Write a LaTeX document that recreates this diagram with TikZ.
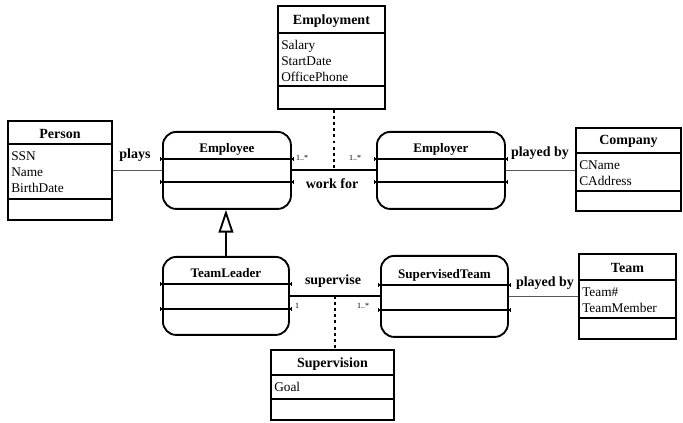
\documentclass[tikz,border=0pt]{standalone}
\usepackage{fontspec}
\setmainfont{Liberation Serif}
\usetikzlibrary{arrows.meta, shapes.multipart, positioning, calc}
\tikzset{
    classbox/.style = {rectangle split, rectangle split parts=3,
        draw=black, line width=1.4pt, inner sep=0pt, anchor=north west},
    rolebox/.style = {classbox, rounded corners=10pt,
        rectangle split draw splits=false},
    rolesplit/.style = {line width=1.2pt,
        {Bar[width=3pt,line width=0.8pt]}-{Bar[width=3pt,line width=0.8pt]}},
    assoc/.style = {line width=1.4pt},
    playline/.style = {draw=black!65, line width=0.8pt},
    linkline/.style = {line width=1.5pt, dash pattern=on 2.2pt off 2.4pt},
    isa/.style = {line width=1.4pt, -{Triangle[open, length=17pt, width=11pt]}},
    rolename/.style = {font=\fontsize{10.5}{12}\selectfont\bfseries, inner sep=1pt},
    mult/.style = {font=\fontsize{6}{7}\selectfont, inner sep=0pt},
}
% compartments of the class boxes: width, height, text
% (each part of a rectangle split gets one line width more)
\newcommand{\titlepart}[3]{\parbox[c][\dimexpr#2-1.4pt][c]{#1}{\vspace{2pt}\centering
    \fontsize{10.5}{12}\selectfont\bfseries #3}}
\newcommand{\roletitle}[3]{\parbox[c][\dimexpr#2-1.4pt][b]{#1}{\centering
    \fontsize{9.8}{12}\selectfont\bfseries #3\strut\par\vspace{0.3pt}}}
\newcommand{\attrpart}[3]{\parbox[t][\dimexpr#2-1.4pt][t]{#1}{\fontsize{10}{11.8}\selectfont
    \raggedright\leftskip=2.5pt\rule{0pt}{12pt}#3}}
\newcommand{\emptypart}[2]{\parbox[c][\dimexpr#2-1.4pt][c]{#1}{}}

\begin{document}
\begin{tikzpicture}[x=0.75pt, y=-0.75pt]
    \useasboundingbox (0,0) rectangle (683,423);

    % classes
    \node (person) [classbox] at (7,120) {\titlepart{78pt}{17.25pt}{Person}
        \nodepart{two}\attrpart{78pt}{41.25pt}{SSN\\Name\\BirthDate}
        \nodepart{three}\emptypart{78pt}{15.75pt}};
    \node (employment) [classbox] at (277,5) {\titlepart{80.25pt}{20.25pt}{Employment}
        \nodepart{two}\attrpart{80.25pt}{39.75pt}{Salary\\StartDate\\OfficePhone}
        \nodepart{three}\emptypart{80.25pt}{17.25pt}};
    \node (company) [classbox] at (575,127) {\titlepart{78.75pt}{18.75pt}{Company}
        \nodepart{two}\attrpart{78.75pt}{28.5pt}{CName\\CAddress}
        \nodepart{three}\emptypart{78.75pt}{15pt}};
    \node (team) [classbox] at (578,253) {\titlepart{72.75pt}{19.5pt}{Team}
        \nodepart{two}\attrpart{72.75pt}{28.5pt}{Team\#\\TeamMember}
        \nodepart{three}\emptypart{72.75pt}{15.75pt}};
    \node (supervision) [classbox] at (270,349) {\titlepart{92.25pt}{18.75pt}{Supervision}
        \nodepart{two}\attrpart{92.25pt}{18pt}{Goal}
        \nodepart{three}\emptypart{92.25pt}{15.75pt}};

    % roles
    \node (employee) [rolebox] at (162,131) {\roletitle{96pt}{20.25pt}{Employee}
        \nodepart{two}\emptypart{96pt}{17.25pt}
        \nodepart{three}\emptypart{96pt}{20.25pt}};
    \node (employer) [rolebox] at (376,131) {\roletitle{96pt}{20.25pt}{Employer}
        \nodepart{two}\emptypart{96pt}{17.25pt}
        \nodepart{three}\emptypart{96pt}{20.25pt}};
    \node (teamleader) [rolebox] at (162,256) {\roletitle{94.5pt}{20.25pt}{TeamLeader}
        \nodepart{two}\emptypart{94.5pt}{18.75pt}
        \nodepart{three}\emptypart{94.5pt}{19.5pt}};
    \node (supervisedteam) [rolebox] at (380,255) {\roletitle{95.25pt}{21.75pt}{SupervisedTeam}
        \nodepart{two}\emptypart{95.25pt}{18.75pt}
        \nodepart{three}\emptypart{95.25pt}{20.25pt}};

    \foreach \r in {employee, employer, teamleader, supervisedteam} {
        \draw[rolesplit] ([xshift=-1.5pt]\r.one split west) -- ([xshift=1.5pt]\r.one split east);
        \draw[rolesplit] ([xshift=-1.5pt]\r.two split west) -- ([xshift=1.5pt]\r.two split east);
    }

    % associations
    \draw[playline] (person.east) -- (person.east -| employee.west);
    \draw[assoc] (employee.east) -- coordinate (wf) (employer.west);
    \draw[linkline] (employment.south -| wf) -- (wf);
    \draw[playline] (employer.east) -- (employer.east -| company.west);
    \draw[isa] (teamleader.north) -- (teamleader.north |- employee.south);
    \draw[assoc] (teamleader.east) -- coordinate (sv) (teamleader.east -| supervisedteam.west);
    \draw[linkline] (sv) -- (sv |- supervision.north);
    \draw[playline] (supervisedteam.east) -- (supervisedteam.east -| team.west);

    % labels
    \node (plays) [rolename] at (135,155) {plays};
    \node (workfor) [rolename] at (332,184) {work for};
    \node (playedby) [rolename] at (540,153) {played by};
    \node (supervise) [rolename] at (333,281) {supervise};
    \node (playedbyteam) [rolename] at (545,283) {played by};
    \node (m1) [mult] at (302,158) {1..*};
    \node (m2) [mult] at (355,158) {1..*};
    \node (m3) [mult] at (297,306) {1};
    \node (m4) [mult] at (363,306) {1..*};
\end{tikzpicture}
\end{document}
